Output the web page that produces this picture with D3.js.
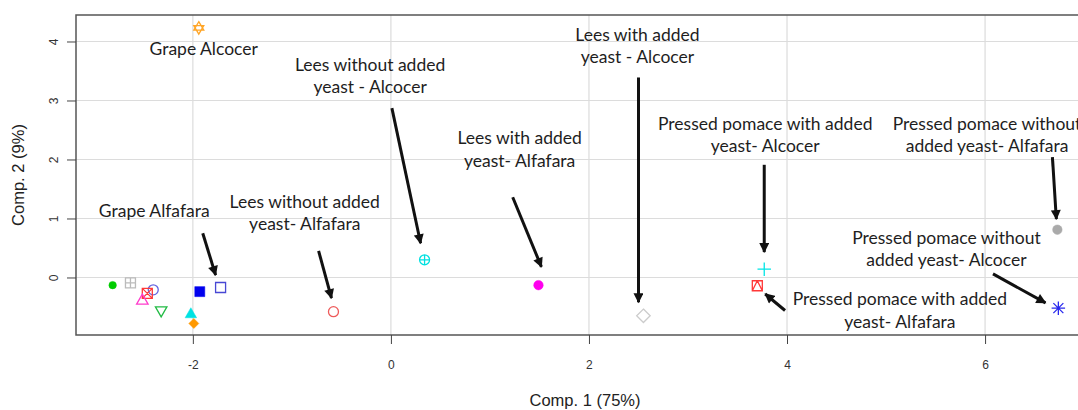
<!DOCTYPE html>
<html>
<head>
<meta charset="utf-8">
<script src="https://cdnjs.cloudflare.com/ajax/libs/d3/7.8.5/d3.min.js"></script>
<style>
    body { margin: 0; background: #fff; }
    .tick-label { font-family: "Liberation Sans", Arial, sans-serif; font-size: 12px; fill: #333; }
    .axis-title { font-family: "Liberation Sans", Arial, sans-serif; font-size: 16.5px; fill: #222; }
    .note { font-family: Lato, "Open Sans", sans-serif; font-size: 17.5px; fill: #1e1e1e; }
</style>
</head>
<body>
<div id="chart"></div>
<script>

// scores on the first two components
let sampleNames = ["Grape Alcocer", "S2", "S3", "S4", "S5", "S6", "S7", "S8", "Grape Alfafara", "S10", "S11",
    "Lees without added yeast- Alfafara", "Lees without added yeast - Alcocer", "Lees with added yeast- Alfafara",
    "Lees with added yeast - Alcocer", "Pressed pomace with added yeast- Alcocer", "Pressed pomace with added yeast- Alfafara",
    "Pressed pomace without added yeast- Alfafara", "Pressed pomace without added yeast- Alcocer"];
let comp1 = [-1.94, -2.81, -2.63, -2.40, -2.46, -2.51, -2.32, -1.93, -1.72, -2.02, -1.99,
    -0.58, 0.34, 1.49, 2.55, 3.77, 3.70, 6.73, 6.74];
let comp2 = [4.23, -0.13, -0.09, -0.21, -0.27, -0.38, -0.57, -0.24, -0.17, -0.61, -0.78,
    -0.58, 0.30, -0.13, -0.65, 0.14, -0.14, 0.81, -0.52];
let pchCodes = [11, 16, 12, 1, 7, 2, 6, 15, 0, 17, 18, 1, 10, 19, 5, 3, 14, 19, 8];
let pointColors = ["#ffa526", "#00cc00", "#bbbbbb", "#6464e0", "#ff3838", "#ff3ccc", "#22bb44", "#0000ee", "#4848d4",
    "#00e2e2", "#ff9900", "#ee5a5a", "#00e0e0", "#ff00ee", "#cccccc", "#00e6e6", "#ff3838", "#aaaaaa", "#2a2aee"];

let xTicks = [-2, 0, 2, 4, 6];
let yTicks = [0, 1, 2, 3, 4];
let xTitle = "Comp. 1 (75%)";
let yTitle = "Comp. 2 (9%)";

// annotations, in data units: text anchor and arrow from -> to
let noteLines = [
    ["Grape Alcocer"],
    ["Grape Alfafara"],
    ["Lees without added", "yeast- Alfafara"],
    ["Lees without added", "yeast - Alcocer"],
    ["Lees with added", "yeast- Alfafara"],
    ["Lees with added", "yeast - Alcocer"],
    ["Pressed pomace with added", "yeast- Alcocer"],
    ["Pressed pomace without", "added yeast- Alfafara"],
    ["Pressed pomace without", "added yeast- Alcocer"],
    ["Pressed pomace with added", "yeast- Alfafara"]
];
let noteX = [-1.89, -2.39, -0.87, -0.21, 1.30, 2.49, 3.78, 6.02, 5.61, 5.14];
let noteY = [3.77, 1.03, 1.18, 3.50, 2.26, 4.01, 2.50, 2.50, 0.57, -0.47];
let arrowFrom = [null, [-1.90, 0.75], [-0.73, 0.45], [0.01, 2.87], [1.23, 1.36], [2.50, 3.39], [3.77, 1.91], [6.68, 2.04], [6.08, 0.06], [3.98, -0.56]];
let arrowTo = [null, [-1.77, 0.04], [-0.60, -0.35], [0.30, 0.58], [1.52, 0.18], [2.50, -0.42], [3.77, 0.43], [6.72, 0.99], [6.61, -0.43], [3.78, -0.28]];

let margin = {container_width: 1078, container_height: 410, top: 15, left: 76, plotRight: 1094, plotBottom: 335};

let svg = d3.select("#chart")
    .append("svg")
    .attr("width", margin.container_width)
    .attr("height", margin.container_height);

let x = d3.scaleLinear()
    .domain([-3.18, 7.1])
    .range([margin.left, margin.plotRight]);

let y = d3.scaleLinear()
    .domain([-0.975, 4.449])
    .range([margin.plotBottom, margin.top]);

// R prints a plain hyphen for negatives
let rFormat = d => String(d);

// grid
svg.append("g")
    .selectAll("line")
    .data(xTicks)
    .enter()
    .append("line")
    .attr("x1", d => x(d)).attr("x2", d => x(d))
    .attr("y1", margin.top).attr("y2", margin.plotBottom)
    .attr("stroke", "#dcdcdc").attr("stroke-width", 1.2);

svg.append("g")
    .selectAll("line")
    .data(yTicks)
    .enter()
    .append("line")
    .attr("x1", margin.left).attr("x2", margin.plotRight)
    .attr("y1", d => y(d)).attr("y2", d => y(d))
    .attr("stroke", "#dcdcdc").attr("stroke-width", 1.2);

// frame
svg.append("rect")
    .attr("x", margin.left).attr("y", margin.top)
    .attr("width", margin.plotRight - margin.left)
    .attr("height", margin.plotBottom - margin.top)
    .attr("fill", "none")
    .attr("stroke", "#555").attr("stroke-width", 1.5);

// axes (R style: ticks outside, labels further out)
let xAxis = svg.append("g")
    .attr("transform", "translate(0," + margin.plotBottom + ")")
    .call(d3.axisBottom(x).tickValues(xTicks).tickSize(9).tickFormat(rFormat));
xAxis.select(".domain").remove();
xAxis.selectAll("line").attr("stroke", "#444");
xAxis.selectAll("text").attr("class", "tick-label").attr("y", 25).attr("font-family", null).attr("font-size", null).attr("fill", null);

let yAxis = svg.append("g")
    .attr("transform", "translate(" + margin.left + ",0)")
    .call(d3.axisLeft(y).tickValues(yTicks).tickSize(9).tickFormat(rFormat));
yAxis.select(".domain").remove();
yAxis.selectAll("line").attr("stroke", "#444");
yAxis.selectAll("text")
    .attr("class", "tick-label")
    .attr("font-family", null).attr("font-size", null).attr("fill", null)
    .attr("x", null).attr("dy", null)
    .attr("text-anchor", "middle")
    .attr("transform", "translate(-22,0) rotate(-90)")
    .attr("y", 4);

svg.append("text")
    .attr("class", "axis-title")
    .attr("text-anchor", "middle")
    .attr("x", (margin.left + margin.plotRight) / 2)
    .attr("y", 406)
    .text(xTitle);

svg.append("text")
    .attr("class", "axis-title")
    .attr("text-anchor", "middle")
    .attr("transform", "translate(24," + ((margin.top + margin.plotBottom) / 2) + ") rotate(-90)")
    .text(yTitle);

// R plotting symbols
function symbolPath(pch, s) {
    let sq = `M${-s},${-s}H${s}V${s}H${-s}Z`;
    let circ = r => `M${-r},0A${r},${r} 0 1,0 ${r},0A${r},${r} 0 1,0 ${-r},0Z`;
    let h = s * 1.15;
    let up = `M0,${-h}L${h},${h * 0.75}L${-h},${h * 0.75}Z`;
    let down = `M0,${h}L${h},${-h * 0.75}L${-h},${-h * 0.75}Z`;
    let d = s * 1.35;
    let dia = `M0,${-d}L${d},0L0,${d}L${-d},0Z`;
    let plus = `M${-d},0H${d}M0,${-d}V${d}`;
    let cross = `M${-s},${-s}L${s},${s}M${s},${-s}L${-s},${s}`;
    switch (pch) {
        case 0: return {d: sq, fill: false};
        case 1: return {d: circ(s), fill: false};
        case 2: return {d: up, fill: false};
        case 3: return {d: plus, fill: false};
        case 5: return {d: dia, fill: false};
        case 6: return {d: down, fill: false};
        case 7: return {d: sq + cross, fill: false};
        case 8: return {d: plus + cross, fill: false};
        case 10: return {d: circ(s) + `M${-s},0H${s}M0,${-s}V${s}`, fill: false};
        case 11: return {d: `M0,${-s * 1.25}L${s},${s * 0.45}L${-s},${s * 0.45}Z` + `M0,${s * 1.25}L${s},${-s * 0.45}L${-s},${-s * 0.45}Z`, fill: false};
        case 12: return {d: sq + `M${-s},0H${s}M0,${-s}V${s}`, fill: false};
        case 14: return {d: sq + `M0,${-s}L${s},${s}M0,${-s}L${-s},${s}`, fill: false};
        case 15: return {d: sq, fill: true};
        case 16: return {d: circ(s * 0.75), fill: true};
        case 17: return {d: up, fill: true};
        case 18: return {d: `M0,${-s}L${s},0L0,${s}L${-s},0Z`, fill: true};
        case 19: return {d: circ(s * 0.95), fill: true};
    }
}

let points = svg.append("g")
    .selectAll("path")
    .data(comp1.map((c, i) => ({name: sampleNames[i], c1: c, c2: comp2[i], pch: pchCodes[i], color: pointColors[i]})))
    .enter()
    .append("path")
    .attr("transform", d => "translate(" + x(d.c1) + "," + y(d.c2) + ")")
    .attr("d", d => symbolPath(d.pch, 5).d)
    .attr("fill", d => symbolPath(d.pch, 5).fill ? d.color : "none")
    .attr("stroke", d => d.color)
    .attr("stroke-width", d => symbolPath(d.pch, 5).fill ? 0.5 : 1.3);

// arrow heads
svg.append("defs").append("marker")
    .attr("id", "head")
    .attr("viewBox", "0 0 10 10")
    .attr("refX", 9).attr("refY", 5)
    .attr("markerUnits", "userSpaceOnUse")
    .attr("markerWidth", 11).attr("markerHeight", 10)
    .attr("orient", "auto")
    .append("path")
    .attr("d", "M0,0L10,5L0,10Z")
    .attr("fill", "#111");

let notes = svg.append("g");

noteLines.forEach(function(lines, i) {
    let t = notes.append("text")
        .attr("class", "note")
        .attr("text-anchor", "middle")
        .attr("x", x(noteX[i]))
        .attr("y", y(noteY[i]));
    lines.forEach(function(line, j) {
        t.append("tspan")
            .attr("x", x(noteX[i]))
            .attr("dy", j === 0 ? 0 : 22.5)
            .text(line);
    });
    if (arrowFrom[i]) {
        notes.append("line")
            .attr("x1", x(arrowFrom[i][0])).attr("y1", y(arrowFrom[i][1]))
            .attr("x2", x(arrowTo[i][0])).attr("y2", y(arrowTo[i][1]))
            .attr("stroke", "#111")
            .attr("stroke-width", 3)
            .attr("marker-end", "url(#head)");
    }
});

</script>
</body>
</html>
